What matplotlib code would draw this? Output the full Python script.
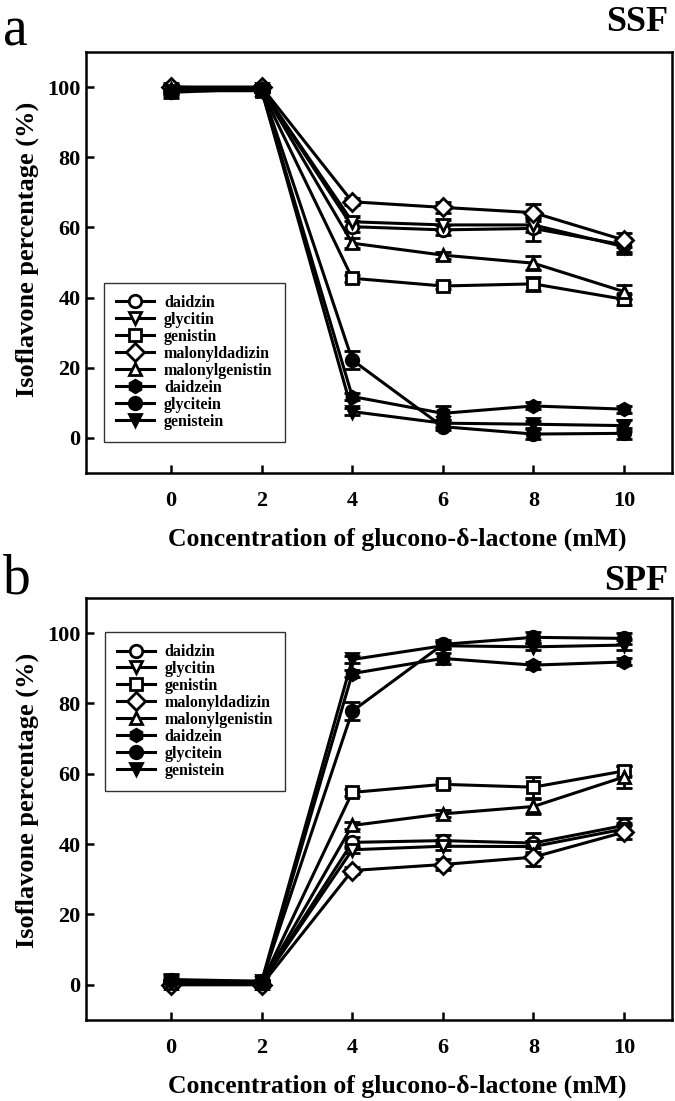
import numpy as np
import matplotlib.pyplot as plt

plt.rcParams['font.family'] = ['Liberation Serif', 'DejaVu Serif']
plt.rcParams['font.weight'] = 'bold'
plt.rcParams['axes.labelweight'] = 'bold'

x = [0, 2, 4, 6, 8, 10]
names = ['daidzin', 'glycitin', 'genistin', 'malonyldadizin', 'malonylgenistin',
         'daidzein', 'glycitein', 'genistein']
markers = ['o', 'v', 's', 'D', '^', 'h', 'o', 'v']
fills = ['white'] * 5 + ['black'] * 3

# SSF
ssf = [
    [100, 99.5, 60.2, 59.3, 59.7, 55.0],
    [99.5, 99.5, 61.6, 60.7, 60.7, 54.5],
    [99.0, 99.0, 45.5, 43.3, 43.9, 39.5],
    [100, 100, 67.3, 65.7, 64.2, 56.4],
    [99.5, 99.5, 55.5, 52.1, 49.8, 41.7],
    [99.0, 99.0, 11.8, 7.0, 9.1, 8.2],
    [98.5, 99.5, 22.2, 3.2, 1.1, 1.3],
    [99.0, 99.0, 7.5, 4.2, 3.9, 3.5],
]
ssf_err = [
    [1.0, 1.0, 1.5, 1.5, 3.5, 2.0],
    [1.0, 1.0, 1.5, 1.5, 2.0, 2.0],
    [0.5, 0.5, 1.0, 1.0, 2.0, 1.5],
    [0.5, 0.5, 1.0, 1.5, 2.5, 2.0],
    [0.5, 0.5, 1.5, 1.0, 2.0, 2.0],
    [1.0, 0.5, 1.0, 2.0, 1.0, 1.0],
    [1.5, 0.5, 2.5, 1.0, 1.5, 1.5],
    [1.0, 0.5, 1.0, 1.0, 1.0, 1.5],
]

# SPF
spf = [
    [0.5, 0.5, 40.5, 41.0, 40.3, 45.3],
    [0.5, 0.5, 38.4, 39.4, 39.3, 44.3],
    [0.5, 0.5, 54.7, 57.0, 56.2, 60.8],
    [0.0, 0.0, 32.5, 34.2, 36.3, 43.4],
    [0.5, 0.5, 45.3, 48.6, 50.7, 59.1],
    [1.0, 0.5, 88.5, 92.8, 90.9, 91.8],
    [1.5, 1.0, 77.8, 96.8, 98.8, 98.5],
    [1.0, 1.0, 92.5, 96.4, 96.1, 96.6],
]
spf_err = [
    [1.0, 1.0, 1.5, 1.5, 3.0, 2.0],
    [0.5, 0.5, 1.0, 1.0, 1.5, 1.5],
    [0.5, 0.5, 1.0, 1.0, 3.0, 1.5],
    [0.5, 0.5, 1.0, 1.5, 2.5, 2.0],
    [0.5, 0.5, 1.0, 1.0, 2.0, 3.0],
    [0.5, 0.5, 1.0, 1.5, 1.0, 1.0],
    [1.5, 0.5, 2.5, 1.0, 1.5, 1.5],
    [1.0, 0.5, 1.0, 1.0, 1.0, 1.5],
]

fig = plt.figure(figsize=(6.75, 11.01), dpi=100)
ax_a = fig.add_axes([0.1274, 0.5704, 0.8681, 0.3824])
ax_b = fig.add_axes([0.1274, 0.0736, 0.8681, 0.3833])


def panel(ax, data, err, leg_anchor, ylab_y):
    for i in range(len(names)):
        ax.errorbar(x, data[i], yerr=err[i], color='black', lw=2.2,
                    marker=markers[i], ms=9, mfc=fills[i], mec='black', mew=2,
                    capsize=6, capthick=2, elinewidth=2, label=names[i])
    ax.set_xlim(-1.88, 11.06)
    ax.set_ylim(-10, 110)
    ax.set_xticks(x)
    ax.set_yticks([0, 20, 40, 60, 80, 100])
    ax.tick_params(direction='in', length=6, width=1.8, labelsize=16, top=False, right=False)
    ax.tick_params(axis='x', pad=13)
    ax.tick_params(axis='y', pad=4)
    for s in ax.spines.values():
        s.set_linewidth(1.8)
    ax.set_xlabel('Concentration of glucono-\u03b4-lactone (mM)', fontsize=18.5,
                  labelpad=12, x=0.531)
    ax.set_ylabel('Isoflavone percentage (%)', fontsize=19, labelpad=6, y=ylab_y)
    handles, labels = ax.get_legend_handles_labels()
    handles = [h[0] for h in handles]
    leg = ax.legend(handles, labels, loc='upper left', bbox_to_anchor=leg_anchor,
                    borderaxespad=0, fontsize=11.5, frameon=True, fancybox=False,
                    handlelength=2.4, labelspacing=0.06, borderpad=0.75,
                    handletextpad=0.6)
    leg.get_frame().set_edgecolor('black')
    leg.get_frame().set_linewidth(1.0)


panel(ax_a, ssf, ssf_err, (0.031, 0.451), 0.53)
panel(ax_b, spf, spf_err, (0.032, 0.919), 0.52)

fig.text(0.005, 0.995, 'a', fontsize=40, fontweight='normal', va='top', ha='left')
fig.text(0.99, 0.995, 'SSF', fontsize=26, va='top', ha='right')
fig.text(0.005, 0.497, 'b', fontsize=40, fontweight='normal', va='top', ha='left')
fig.text(0.99, 0.487, 'SPF', fontsize=26, va='top', ha='right')

fig.savefig('out.png', dpi=100)
